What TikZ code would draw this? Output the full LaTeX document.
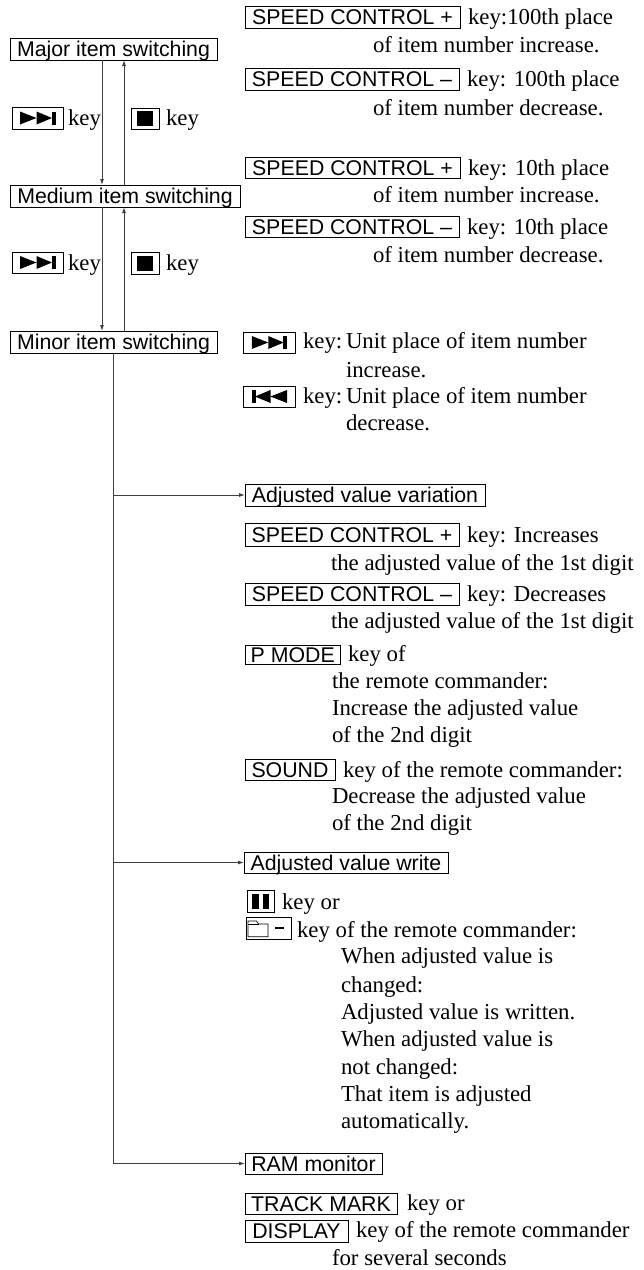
\documentclass[tikz,border=0pt]{standalone}
\usepackage{fontspec}
\setmainfont{Liberation Serif}
\setsansfont{Liberation Sans}
\usetikzlibrary{arrows.meta}
\tikzset{
  x=1pt,y=-1pt,
  lab/.style={anchor=base west,inner sep=0pt,outer sep=0pt,font=\fontsize{22.8}{22.8}\selectfont,text=black},
  keybox/.style={anchor=north west,draw=black,line width=0.8pt,inner sep=0pt,outer sep=0pt,
    font=\sffamily\fontsize{21.3}{21.3}\selectfont,align=center,text=black,text height=16.5pt,text depth=1.5pt},
  conn/.style={draw=black!75,line width=0.9pt,-{Latex[length=6pt,width=4pt]}},
  plain/.style={draw=black!75,line width=0.9pt},
}
% box: name, x1, y1, x2, y2, text
\newcommand{\kbx}[6]{\node[keybox,minimum width=#4pt-#2pt,minimum height=#5pt-#3pt] (#1) at (#2,#3) {#6};}
\newcommand{\tx}[4]{\node[lab] (#1) at (#2,#3) {#4};}
\newcommand{\glyphnext}[1]{
  \fill[black] ([xshift=-17.5pt,yshift=6.5pt]#1.center) -- ([xshift=-1pt]#1.center) -- ([xshift=-17.5pt,yshift=-6.5pt]#1.center) -- cycle;
  \fill[black] ([xshift=-1pt,yshift=6.5pt]#1.center) -- ([xshift=14.5pt]#1.center) -- ([xshift=-1pt,yshift=-6.5pt]#1.center) -- cycle;
  \fill[black] ([xshift=14pt,yshift=6.5pt]#1.center) rectangle ([xshift=18pt,yshift=-6.5pt]#1.center);}
\newcommand{\glyphprev}[1]{
  \fill[black] ([xshift=18pt,yshift=6.5pt]#1.center) -- ([xshift=1.5pt]#1.center) -- ([xshift=18pt,yshift=-6.5pt]#1.center) -- cycle;
  \fill[black] ([xshift=1.5pt,yshift=6.5pt]#1.center) -- ([xshift=-14pt]#1.center) -- ([xshift=1.5pt,yshift=-6.5pt]#1.center) -- cycle;
  \fill[black] ([xshift=-13.5pt,yshift=6.5pt]#1.center) rectangle ([xshift=-17.5pt,yshift=-6.5pt]#1.center);}
\newcommand{\glyphstop}[1]{
  \fill[black] ([xshift=-8pt,yshift=7.5pt]#1.center) rectangle ([xshift=8pt,yshift=-7.5pt]#1.center);}
\newcommand{\glyphpause}[1]{
  \fill[black] ([xshift=-8.5pt,yshift=7.5pt]#1.center) rectangle ([xshift=-1.5pt,yshift=-7.5pt]#1.center);
  \fill[black] ([xshift=2pt,yshift=7.5pt]#1.center) rectangle ([xshift=8.5pt,yshift=-7.5pt]#1.center);}
\begin{document}
\begin{tikzpicture}
\useasboundingbox (0,0) rectangle (644,1270);
% left column
\kbx{major}{10}{38}{217}{60}{Major item switching}
\kbx{medium}{10}{185}{240}{207}{Medium item switching}
\kbx{minor}{10}{331}{217}{353}{Minor item switching}
\kbx{kn1}{12}{107}{63}{129}{}\glyphnext{kn1}
\tx{kn1t}{68}{125}{key}
\kbx{ks1}{131}{108}{159}{129}{}\glyphstop{ks1}
\tx{ks1t}{166}{125}{key}
\kbx{kn2}{12}{252}{63}{273}{}\glyphnext{kn2}
\tx{kn2t}{68}{270}{key}
\kbx{ks2}{131}{252}{159}{274}{}\glyphstop{ks2}
\tx{ks2t}{166}{270}{key}
\coordinate (d1a) at (102,60); \coordinate (d1b) at (102,185);
\coordinate (u1a) at (124,185); \coordinate (u1b) at (124,60);
\coordinate (d2a) at (102,207); \coordinate (d2b) at (102,331);
\coordinate (u2a) at (124,331); \coordinate (u2b) at (124,207);
\draw[conn] (d1a) -- (d1b);
\draw[conn] (u1a) -- (u1b);
\draw[conn] (d2a) -- (d2b);
\draw[conn] (u2a) -- (u2b);
% right top
\kbx{s1}{245}{6}{460}{28}{SPEED CONTROL +}
\tx{s1a}{468}{24}{key:100th place}
\tx{s1b}{373}{52}{of item number increase.}
\kbx{s2}{245}{68}{459}{90}{SPEED CONTROL –}
\tx{s2a}{467}{86}{key: 100th place}
\tx{s2b}{373}{115}{of item number decrease.}
\kbx{s3}{245}{157}{460}{178}{SPEED CONTROL +}
\tx{s3a}{468}{175}{key: 10th place}
\tx{s3b}{373}{202}{of item number increase.}
\kbx{s4}{245}{216}{459}{237}{SPEED CONTROL –}
\tx{s4a}{467}{234}{key: 10th place}
\tx{s4b}{373}{262}{of item number decrease.}
\kbx{n3}{243.5}{332}{295}{353}{}\glyphnext{n3}
\tx{n3a}{303}{348}{key:}
\tx{n3c}{346}{348}{Unit place of item number}
\tx{n3b}{346}{377}{increase.}
\kbx{p3}{243}{386}{295}{407}{}\glyphprev{p3}
\tx{p3a}{303}{403}{key:}
\tx{p3c}{346}{403}{Unit place of item number}
\tx{p3b}{346}{430}{decrease.}
% adjusted value variation
\kbx{adj}{245}{484}{485}{506}{Adjusted value variation}
\kbx{s5}{245}{523}{459}{546}{SPEED CONTROL +}
\tx{s5a}{467}{542}{key: Increases}
\tx{s5b}{331}{570}{the adjusted value of the 1st digit}
\kbx{s6}{245}{583}{459}{605}{SPEED CONTROL –}
\tx{s6a}{467}{601}{key: Decreases}
\tx{s6b}{331}{628}{the adjusted value of the 1st digit}
\kbx{pm}{245.5}{645}{340}{664}{P MODE}
\tx{pma}{348}{661}{key of}
\tx{pmb}{332}{688}{the remote commander:}
\tx{pmc}{332}{715}{Increase the adjusted value}
\tx{pmd}{332}{742}{of the 2nd digit}
\kbx{snd}{245}{759}{335}{780}{SOUND}
\tx{snda}{343}{777}{key of the remote commander:}
\tx{sndb}{332}{803}{Decrease the adjusted value}
\tx{sndc}{332}{830}{of the 2nd digit}
% write
\kbx{wr}{244}{852}{448}{873}{Adjusted value write}
\kbx{pa}{247}{890}{274}{912}{}\glyphpause{pa}
\tx{paa}{282}{909}{key or}
\kbx{fo}{246}{917}{291}{939}{}
\draw[black,line width=0.7pt] ([xshift=-20.5pt,yshift=-8.7pt]fo.center) -- ([xshift=-20.5pt,yshift=7pt]fo.center) -- ([xshift=-12pt,yshift=7pt]fo.center) -- ([xshift=-10pt,yshift=4pt]fo.center) -- ([xshift=-0.5pt,yshift=4pt]fo.center) -- ([xshift=-0.5pt,yshift=-8.7pt]fo.center) -- cycle;
\draw[black,line width=0.7pt] ([xshift=-20.5pt,yshift=4pt]fo.center) -- ([xshift=-10pt,yshift=4pt]fo.center);
\fill[black] ([xshift=6.5pt,yshift=-1.2pt]fo.center) rectangle ([xshift=15.5pt,yshift=1.2pt]fo.center);
\tx{foa}{297}{937}{key of the remote commander:}
\tx{w1}{341}{963}{When adjusted value is}
\tx{w2}{341}{992}{changed:}
\tx{w3}{341}{1019}{Adjusted value is written.}
\tx{w4}{341}{1046}{When adjusted value is}
\tx{w5}{341}{1074}{not changed:}
\tx{w6}{341}{1101}{That item is adjusted}
\tx{w7}{341}{1128}{automatically.}
% RAM
\kbx{ram}{245}{1153}{382}{1174}{RAM monitor}
\kbx{tm}{245}{1193}{397}{1214}{TRACK MARK}
\tx{tma}{407}{1210}{key or}
\kbx{di}{245}{1220}{348}{1242}{DISPLAY}
\tx{dia}{356}{1237}{key of the remote commander}
\tx{dib}{332}{1265}{for several seconds}
% trunk
\coordinate (tr1) at (113,495); \coordinate (tr2) at (113,862.5); \coordinate (tr3) at (113,1163.5);
\draw[plain] (minor.south -| tr3) -- (tr3);
\draw[conn] (tr1) -- (adj.west);
\draw[conn] (tr2) -- (wr.west);
\draw[conn] (tr3) -- (ram.west);
\end{tikzpicture}
\end{document}
